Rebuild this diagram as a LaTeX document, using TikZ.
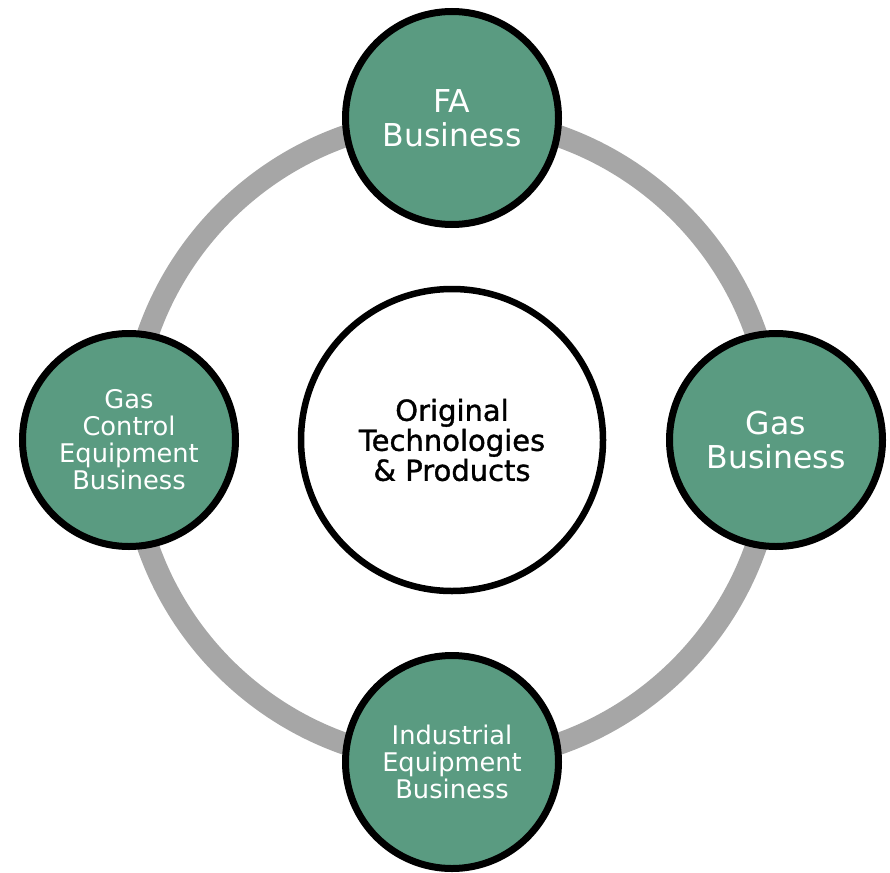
\documentclass[tikz,border=0pt]{standalone}
\usepackage{fontspec}
\setmainfont{DejaVu Sans}
\newfontfamily\corefont[FakeBold=1.2]{DejaVu Sans}
\definecolor{ringgray}{HTML}{A6A6A6}
\definecolor{bizgreen}{HTML}{5A9B81}
\begin{document}
\begin{tikzpicture}[x=1pt,y=-1pt,
  biz/.style={circle,draw=black,line width=7pt,fill=bizgreen,text=white,
    minimum size=213pt,inner sep=0pt,align=center},
  bigtxt/.style={font=\fontsize{31.5}{34}\selectfont},
  smalltxt/.style={font=\fontsize{25.7}{27}\selectfont},
  core/.style={circle,draw=black,line width=6.5pt,fill=white,text=black,
    minimum size=302pt,inner sep=0pt,align=center,font=\corefont\fontsize{29}{30}\selectfont}]
\useasboundingbox (0,0) rectangle (890,872);
\coordinate (c) at (452,440);
\draw[ringgray,line width=22pt] (c) circle[radius=322];
\node[core] (core) at (c) {Original\\Technologies\\\& Products};
\node[biz,bigtxt] (fa) at (452,118) {FA\\Business};
\node[biz,bigtxt] (gas) at (776,440) {Gas\\Business};
\node[biz,smalltxt] (ind) at (452,762) {Industrial\\Equipment\\Business};
\node[biz,smalltxt] (gce) at (129,440) {Gas\\Control\\Equipment\\Business};
\end{tikzpicture}
\end{document}
